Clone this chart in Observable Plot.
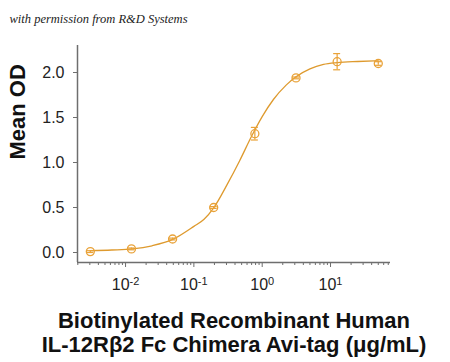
<!DOCTYPE html>
<html>
<head>
<meta charset="utf-8">
<script src="https://cdn.jsdelivr.net/npm/d3@7"></script>
<script src="https://cdn.jsdelivr.net/npm/@observablehq/plot@0.6"></script>
<style>
  html, body { margin: 0; padding: 0; background: #fff; overflow: hidden; }
</style>
</head>
<body>
<div id="chart"></div>
<script>
// Measured points (concentration in µg/mL, mean OD, error)
const conc   = [0.00305, 0.0122, 0.0488, 0.195, 0.781, 3.125, 12.5, 50];
const meanOD = [0.01, 0.04, 0.15, 0.50, 1.32, 1.94, 2.12, 2.10];
const errOD  = [0.01, 0.01, 0.01, 0.01, 0.07, 0.01, 0.09, 0.02];

// Fitted curve
const curveConc = [0.00305, 0.0063, 0.0126, 0.0245, 0.05, 0.1, 0.141, 0.195, 0.309, 0.468, 0.708, 1, 1.46, 2.24, 3.09, 5.0, 7.9, 12.6, 25, 50];
const curveOD   = [0.02, 0.028, 0.04, 0.075, 0.148, 0.29, 0.37, 0.497, 0.76, 1.02, 1.30, 1.51, 1.70, 1.86, 1.95, 2.04, 2.09, 2.11, 2.122, 2.13];

// Axes
const xDomain = [0.00198, 75.5];
const yDomain = [-0.111, 2.3];
const xMajorTicks = [0.01, 0.1, 1, 10];
const xTickExponents = ["-2", "-1", "0", "1"];
const xMinorTicks = [2,3,4,5,6,7,8,9].flatMap(m => [0.001, 0.01, 0.1, 1, 10].map(d => m * d)).filter(v => v >= xDomain[0] && v <= xDomain[1]);
const yTicks = [0, 0.5, 1.0, 1.5, 2.0];

const titleText = "with permission from R&D Systems";
const yLabel = "Mean OD";
const xLabel = "Biotinylated Recombinant Human\nIL-12Rβ2 Fc Chimera Avi-tag (μg/mL)";

const points = conc.map((c, i) => ({x: c, y: meanOD[i], e: errOD[i]}));
const curve = curveConc.map((c, i) => ({x: c, y: curveOD[i]}));
const expByTick = new Map(xMajorTicks.map((t, i) => [t, xTickExponents[i]]));

const lineColor = "#DE9A2E";
const dotColor = "#E9A238";
const axisColor = "#6e6e6e";

const plot = Plot.plot({
  width: 450,
  height: 362,
  marginLeft: 77,
  marginRight: 60,
  marginTop: 45,
  marginBottom: 100,
  style: {fontFamily: "'Liberation Sans', Arial, sans-serif", maxWidth: "none"},
  x: {type: "log", domain: xDomain},
  y: {domain: yDomain},
  marks: [
    Plot.axisY({ticks: yTicks, tickFormat: d3.format(".1f"), tickSize: 4, tickPadding: 9, fontSize: 16, label: null, stroke: axisColor, color: "#222"}),
    Plot.axisX({ticks: xMinorTicks, tickSize: 3, tickFormat: () => "", label: null, stroke: axisColor}),
    Plot.axisX({ticks: xMajorTicks, tickSize: 5, tickPadding: 11, fontSize: 16, label: null, stroke: axisColor, color: "#222",
      tickFormat: d => "10" + expByTick.get(d)}),
    Plot.line(curve, {x: "x", y: "y", stroke: lineColor, strokeWidth: 1.3, curve: "monotone-x"}),
    Plot.ruleX(points, {x: "x", y1: d => d.y - d.e, y2: d => d.y + d.e, stroke: dotColor, strokeWidth: 1.2}),
    Plot.ruleY(points, {x1: "x", x2: "x", y: d => d.y + d.e, insetLeft: -3.5, insetRight: -3.5, stroke: dotColor, strokeWidth: 1.2}),
    Plot.ruleY(points, {x1: "x", x2: "x", y: d => d.y - d.e, insetLeft: -3.5, insetRight: -3.5, stroke: dotColor, strokeWidth: 1.2}),
    Plot.dot(points, {x: "x", y: "y", r: 4, stroke: dotColor, fill: "none", strokeWidth: 1.3}),
    Plot.ruleX([xDomain[0]], {stroke: axisColor, strokeWidth: 1.5}),
    Plot.ruleY([yDomain[0]], {stroke: axisColor, strokeWidth: 1.5}),
    Plot.text([yLabel], {frameAnchor: "left", rotate: -90, dx: -60, dy: 5.5, fontSize: 22, fontWeight: "bold", fill: "#111"}),
    Plot.text([xLabel], {frameAnchor: "bottom", lineAnchor: "top", dy: 48, fontSize: 22, fontWeight: "bold", lineHeight: 1.09, fill: "#111"}),
    Plot.text([titleText], {frameAnchor: "top-left", textAnchor: "start", dx: -68, dy: -31, fontSize: 12.5, fontStyle: "italic", fontFamily: "'Liberation Serif', serif", fill: "#222"})
  ]
});

const svg = d3.select(plot);

// Render the decade labels as 10 with a superscript exponent
svg.selectAll("g[aria-label='x-axis tick label'] text").each(function() {
  const t = d3.select(this);
  const s = t.text();
  if (!s.startsWith("10")) return;
  const exp = s.slice(2);
  t.text("10");
  t.append("tspan").attr("dy", "-0.45em").attr("font-size", 11).text(exp);
});

document.getElementById("chart").appendChild(plot);
</script>
</body>
</html>
